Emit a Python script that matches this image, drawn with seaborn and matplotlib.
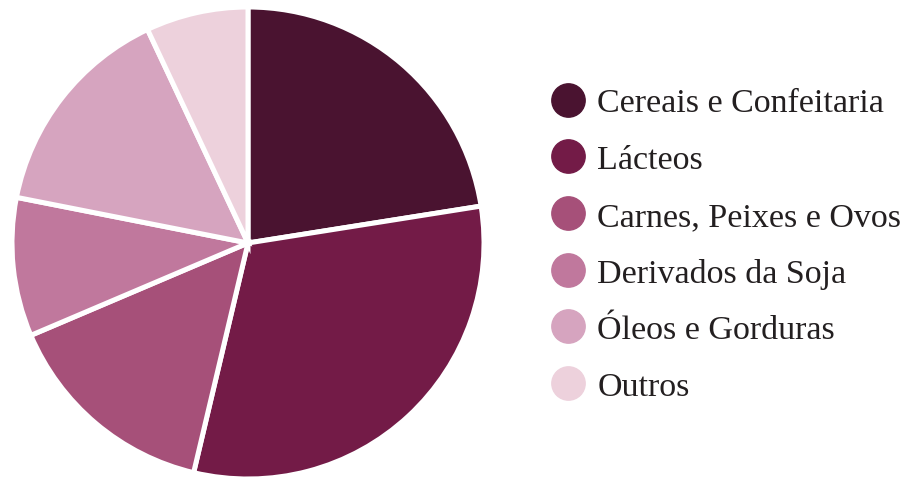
import matplotlib
matplotlib.use("Agg")
import matplotlib.pyplot as plt
import seaborn as sns
from matplotlib.lines import Line2D

categorias = ["Cereais e Confeitaria", "Lácteos", "Carnes, Peixes e Ovos",
              "Derivados da Soja", "Óleos e Gorduras", "Outros"]
valores = [22.5, 31.2, 14.9, 9.5, 14.9, 7.0]
cores = ["#4A1330", "#731B47", "#A65079", "#C0789D", "#D6A4BF", "#EDD1DC"]

sns.set_theme(style="white")
plt.rcParams['font.family'] = ['Liberation Serif', 'DejaVu Serif']

fig = plt.figure(figsize=(9.05, 4.81), dpi=100)
W, H = 905, 481
cx, cy, r = 248, 244, 236
ax = fig.add_axes([(cx - r) / W, (H - cy - r) / H, 2 * r / W, 2 * r / H])

wedges, _ = ax.pie(valores, colors=cores, startangle=90, counterclock=False,
                   wedgeprops=dict(edgecolor="white", linewidth=3.6))
ax.set_xlim(-1.0, 1.0)
ax.set_ylim(-1.0, 1.0)
ax.set_aspect("equal")

handles = [Line2D([0], [0], marker="o", linestyle="", markersize=24,
                  markerfacecolor=c, markeredgecolor=c) for c in cores]
fig.legend(handles, categorias, loc="upper left", bbox_to_anchor=(536 / W, 1 - 75 / H),
           frameon=False, fontsize=24.5, labelspacing=0.76, handletextpad=0.3,
           handlelength=1.1, borderaxespad=0, labelcolor="#231F20")

fig.savefig("out.png", dpi=100, facecolor="white")
